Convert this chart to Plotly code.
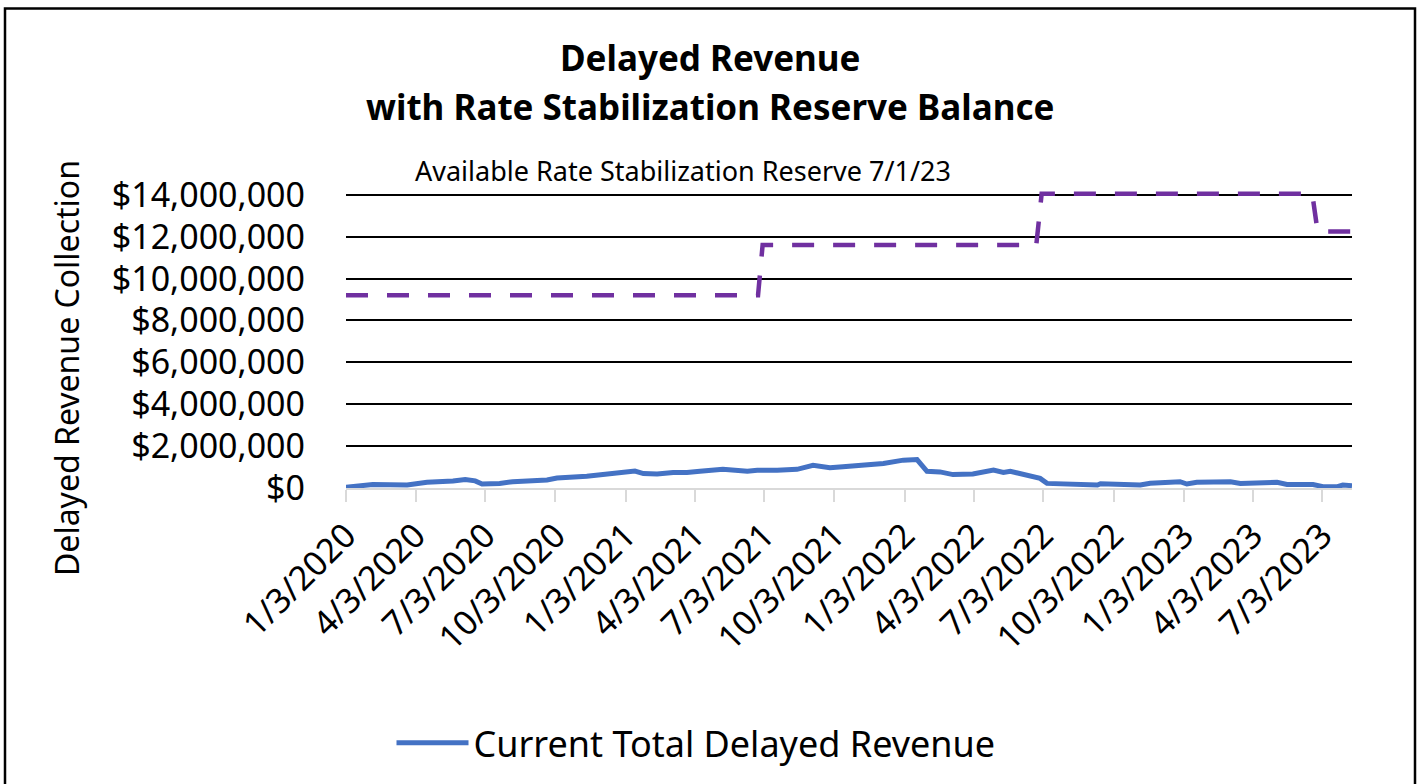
import plotly.graph_objects as go

# ---- data ----
revenue_dates = [
    "2020-01-03", "2020-02-07", "2020-03-23", "2020-04-18", "2020-05-22", "2020-06-07",
    "2020-06-20", "2020-06-29", "2020-07-22", "2020-08-08", "2020-09-22", "2020-10-05",
    "2020-11-13", "2020-12-09", "2020-12-30", "2021-01-15", "2021-01-26", "2021-02-13",
    "2021-03-06", "2021-03-24", "2021-04-10", "2021-05-10", "2021-06-11", "2021-06-24",
    "2021-07-20", "2021-08-15", "2021-09-05", "2021-09-27", "2021-10-14", "2021-11-09",
    "2021-11-19", "2021-12-06", "2022-01-01", "2022-01-19", "2022-02-01", "2022-02-18",
    "2022-03-07", "2022-04-02", "2022-04-29", "2022-05-12", "2022-05-21", "2022-06-03",
    "2022-06-12", "2022-06-29", "2022-07-08", "2022-08-07", "2022-09-12", "2022-09-16",
    "2022-11-07", "2022-11-20", "2022-12-29", "2023-01-07", "2023-01-20", "2023-03-05",
    "2023-03-18", "2023-05-05", "2023-05-18", "2023-06-21", "2023-07-04", "2023-07-23",
    "2023-07-30", "2023-08-11",
]
revenue_values = [
    30000, 170000, 140000, 270000, 330000, 410000,
    340000, 190000, 220000, 300000, 380000, 480000,
    560000, 660000, 770000, 810000, 690000, 670000,
    740000, 740000, 800000, 890000, 800000, 850000,
    850000, 890000, 1080000, 970000, 1020000, 1080000,
    1130000, 1170000, 1330000, 1360000, 800000, 770000,
    640000, 670000, 860000, 740000, 800000, 680000,
    580000, 460000, 220000, 170000, 140000, 200000,
    140000, 230000, 300000, 190000, 270000, 300000,
    220000, 270000, 170000, 170000, 60000, 60000,
    140000, 110000,
]

reserve_dates = ["2020-01-03", "2021-06-25", "2021-07-01", "2022-06-24",
                 "2022-07-01", "2023-06-20", "2023-06-27", "2023-08-11"]
reserve_values = [9200000, 9200000, 11600000, 11600000,
                  14050000, 14050000, 12250000, 12250000]

tick_dates = ["2020-01-03", "2020-04-03", "2020-07-03", "2020-10-03",
              "2021-01-03", "2021-04-03", "2021-07-03", "2021-10-03",
              "2022-01-03", "2022-04-03", "2022-07-03", "2022-10-03",
              "2023-01-03", "2023-04-03", "2023-07-03"]
tick_labels = ["1/3/2020", "4/3/2020", "7/3/2020", "10/3/2020",
               "1/3/2021", "4/3/2021", "7/3/2021", "10/3/2021",
               "1/3/2022", "4/3/2022", "7/3/2022", "10/3/2022",
               "1/3/2023", "4/3/2023", "7/3/2023"]
y_ticks = [0, 2000000, 4000000, 6000000, 8000000, 10000000, 12000000, 14000000]

FONT = "Noto Sans"

fig = go.Figure()
fig.add_trace(go.Scatter(
    x=reserve_dates, y=reserve_values, mode="lines",
    line=dict(color="#7030A0", width=4.5, dash="22px,19px"),
    name="Available Rate Stabilization Reserve", showlegend=False,
))
fig.add_trace(go.Scatter(
    x=revenue_dates, y=revenue_values, mode="lines",
    line=dict(color="#4472C4", width=5),
    name="Current Total Delayed Revenue",
))

W, H = 1422, 784
L, R, T, B = 346, 70, 189, 291
pw, ph = W - L - R, H - T - B

def px(xp):
    return (xp - L) / pw

def py(yp):
    return (H - B - yp) / ph

fig.update_layout(
    width=W, height=H,
    margin=dict(l=L, r=R, t=T, b=B),
    paper_bgcolor="white", plot_bgcolor="white",
    font=dict(family=FONT, color="black"),
    showlegend=True,
    legend=dict(orientation="h", x=px(696), y=py(752), xanchor="center", yanchor="middle",
                font=dict(size=36, family=FONT), bgcolor="rgba(0,0,0,0)", itemwidth=72),
    xaxis=dict(
        type="date", range=["2020-01-03", "2023-08-11"],
        tickmode="array", tickvals=tick_dates, ticktext=tick_labels,
        tickangle=-45, tickfont=dict(size=34, family=FONT),
        ticks="outside", ticklen=12, tickcolor="#d9d9d9", tickwidth=1.5,
        showline=True, linecolor="#d9d9d9", linewidth=2,
        showgrid=False, zeroline=False,
    ),
    yaxis=dict(
        range=[0, 14280000], tickmode="array", tickvals=y_ticks,
        tickformat="$,.0f", tickfont=dict(size=34, family=FONT),
        showgrid=True, gridcolor="black", gridwidth=1.8,
        zeroline=False, showline=False, ticks="", ticklabelstandoff=40,
    ),
    annotations=[
        dict(text="<b>Delayed Revenue</b>", xref="paper", yref="paper",
             x=px(710), y=py(55), xanchor="center", yanchor="middle",
             showarrow=False, font=dict(size=35, family=FONT)),
        dict(text="<b>with Rate Stabilization Reserve Balance</b>", xref="paper", yref="paper",
             x=px(710), y=py(105), xanchor="center", yanchor="middle",
             showarrow=False, font=dict(size=35, family=FONT)),
        dict(text="Available Rate Stabilization Reserve 7/1/23", xref="paper", yref="paper",
             x=px(683), y=py(170), xanchor="center", yanchor="middle",
             showarrow=False, font=dict(size=27, family=FONT)),
        dict(text="Delayed Revenue Collection", xref="paper", yref="paper",
             x=px(66), y=py(371), xanchor="center", yanchor="middle", textangle=-90,
             showarrow=False, font=dict(size=32, family=FONT)),
    ],
    shapes=[
        dict(type="rect", xref="paper", yref="paper",
             x0=px(5), x1=px(1415), y0=py(800), y1=py(5.5),
             line=dict(color="black", width=2.5), fillcolor="rgba(0,0,0,0)", layer="below"),
    ],
)

fig.write_html(
    "out.html",
    config={"displayModeBar": False},
    post_script="document.body.style.margin='0';document.body.style.overflow='hidden';",
)
